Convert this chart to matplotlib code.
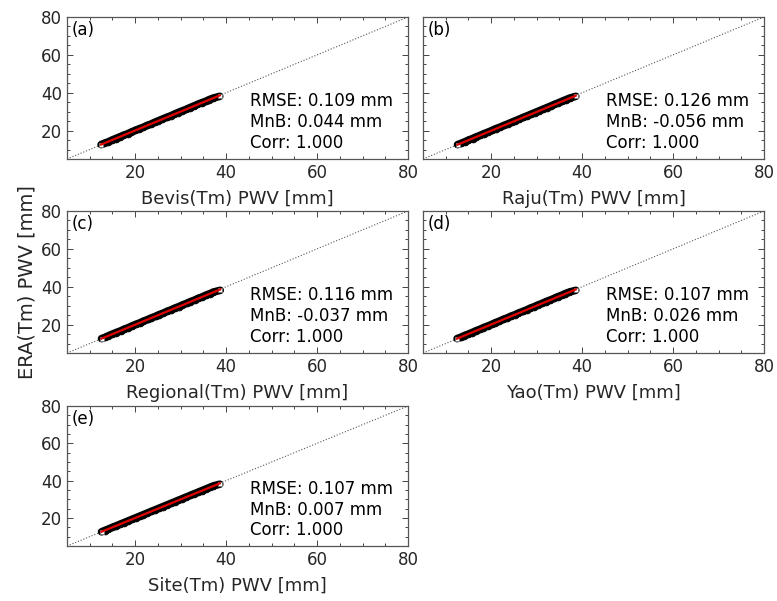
import matplotlib
matplotlib.use("Agg")
import matplotlib.pyplot as plt
import numpy as np
from matplotlib.ticker import MultipleLocator

plt.rcParams['font.family'] = ['DejaVu Sans']

# ERA5-derived PWV (reference, y axis) for representative points
era_pwv = [12.6, 13.3, 14.1, 15.0, 15.8, 16.7, 17.5, 18.4, 19.2, 20.1, 21.0, 21.8,
           22.7, 23.5, 24.4, 25.2, 26.1, 27.0, 27.8, 28.7, 29.5, 30.4, 31.2, 32.1,
           33.0, 33.8, 34.7, 35.5, 36.4, 37.2, 38.1]
# model-derived PWV for the same points (x axes)
bevis_pwv = [12.5, 13.2, 14.1, 14.9, 15.7, 16.6, 17.4, 18.4, 19.1, 20.0, 20.9, 21.8,
             22.6, 23.5, 24.3, 25.1, 26.0, 26.9, 27.8, 28.6, 29.4, 30.3, 31.2, 32.0,
             32.9, 33.7, 34.6, 35.5, 36.3, 37.2, 38.6]
raju_pwv = [12.6, 13.4, 14.2, 15.0, 15.9, 16.7, 17.6, 18.4, 19.3, 20.2, 21.0, 21.9,
            22.8, 23.6, 24.5, 25.3, 26.2, 27.1, 27.9, 28.8, 29.6, 30.5, 31.3, 32.2,
            33.1, 33.9, 34.8, 35.6, 36.5, 37.3, 38.6]
regional_pwv = [12.6, 13.4, 14.1, 15.0, 15.8, 16.8, 17.5, 18.5, 19.2, 20.1, 21.1, 21.8,
                22.8, 23.5, 24.5, 25.2, 26.2, 27.0, 27.9, 28.7, 29.6, 30.4, 31.3, 32.1,
                33.1, 33.8, 34.8, 35.5, 36.5, 37.2, 38.7]
yao_pwv = [12.5, 13.3, 14.0, 15.0, 15.8, 16.6, 17.5, 18.3, 19.2, 20.1, 20.9, 21.8,
           22.6, 23.5, 24.3, 25.2, 26.0, 27.0, 27.8, 28.6, 29.5, 30.3, 31.2, 32.0,
           33.0, 33.8, 34.6, 35.5, 36.3, 37.2, 38.6]
site_pwv = [12.6, 13.3, 14.1, 15.0, 15.8, 16.7, 17.5, 18.4, 19.2, 20.1, 21.0, 21.8,
            22.7, 23.5, 24.4, 25.2, 26.1, 27.0, 27.8, 28.7, 29.5, 30.4, 31.2, 32.1,
            33.0, 33.8, 34.7, 35.5, 36.4, 37.2, 38.6]

model_names = ["Bevis", "Raju", "Regional", "Yao", "Site"]
panel_labels = ["(a)", "(b)", "(c)", "(d)", "(e)"]
rmse_vals = ["0.109", "0.126", "0.116", "0.107", "0.107"]
mnb_vals = ["0.044", "-0.056", "-0.037", "0.026", "0.007"]
corr_vals = ["1.000", "1.000", "1.000", "1.000", "1.000"]
model_data = [bevis_pwv, raju_pwv, regional_pwv, yao_pwv, site_pwv]

W, H = 777, 601
fig = plt.figure(figsize=(W / 100, H / 100), dpi=100)

col_left = [67 / W, 423 / W]
ax_w = 341 / W
rows = [(17, 159), (211, 353), (406, 546)]
positions = []
for r, (t, b) in enumerate(rows):
    for c in range(2):
        if r == 2 and c == 1:
            continue
        positions.append([col_left[c], 1 - b / H, ax_w, (b - t) / H])

tc = '#262626'
axes = []
for i, pos in enumerate(positions):
    ax = fig.add_axes(pos)
    axes.append(ax)
    x = np.array(model_data[i])
    y = np.array(era_pwv)
    ax.plot([5, 80], [5, 80], linestyle=':', color='#555555', lw=0.8, zorder=1)
    ax.plot(x, y, color='black', lw=5.5, solid_capstyle='round', zorder=2)
    ax.scatter(x[1:-1], y[1:-1], s=24, marker='o', facecolor='black', edgecolor='black',
               lw=0.6, zorder=2)
    ax.scatter([x[0], x[-1]], [y[0], y[-1]], s=7, marker='s', facecolor='white',
               edgecolor='#777777', lw=0.5, zorder=2)
    p = np.polyfit(x, y, 1)
    xx = np.array([x.min(), x.max()])
    ax.plot(xx, np.polyval(p, xx), color='#e00000', lw=1.6, zorder=3)
    ax.set_xlim(5, 80)
    ax.set_ylim(5, 80)
    ax.xaxis.set_major_locator(MultipleLocator(20))
    ax.yaxis.set_major_locator(MultipleLocator(20))
    ax.xaxis.set_minor_locator(MultipleLocator(5))
    ax.yaxis.set_minor_locator(MultipleLocator(5))
    ax.tick_params(which='both', direction='in', top=True, right=True, colors=tc,
                   labelsize=12, width=0.6)
    ax.tick_params(which='major', length=4)
    ax.tick_params(which='minor', length=2.5)
    ax.set_xticks([20, 40, 60, 80])
    if i in (1, 3):
        ax.set_yticklabels([])
    else:
        ax.set_yticks([20, 40, 60, 80])
    for sp in ax.spines.values():
        sp.set_color('#555555')
        sp.set_linewidth(0.9)
    ax.set_xlabel(f"{model_names[i]}(Tm) PWV [mm]", fontsize=13, color=tc, labelpad=6)
    ax.text(0.015, 0.97, panel_labels[i], transform=ax.transAxes, ha='left', va='top',
            fontsize=12, color='black')
    ax.text(45.2, 24.5, f"RMSE: {rmse_vals[i]} mm\nMnB: {mnb_vals[i]} mm\nCorr: {corr_vals[i]}",
            ha='left', va='center', fontsize=12, color='black', linespacing=1.2)

axes[2].set_ylabel("ERA(Tm) PWV [mm]", fontsize=14, color=tc, labelpad=3)

fig.savefig("out.png", dpi=100)
